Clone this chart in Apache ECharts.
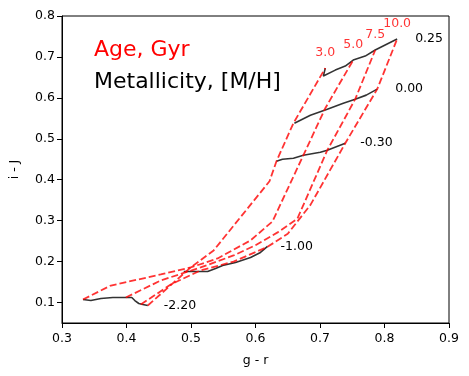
<!DOCTYPE html>
<html lang="en">
<head>
<meta charset="UTF-8">
<title>g-r vs i-J grid</title>
<script src="https://cdn.jsdelivr.net/npm/echarts@6/dist/echarts.min.js"></script>
<style>
  html, body { margin: 0; padding: 0; background: #fff; }
  #main { width: 469px; height: 376px; }
</style>
</head>
<body>
<div id="main"></div>
<script>
// tick labels
const xTicks = [0.3, 0.4, 0.5, 0.6, 0.7, 0.8, 0.9];
const yTicks = [0.1, 0.2, 0.3, 0.4, 0.5, 0.6, 0.7, 0.8];

// metallicity tracks [g-r, i-J] (black)
const mhNames = ['-2.20', '-1.00', '-0.30', '0.00', '0.25'];
const mhM220 = [[0.3325,0.1074],[0.3448,0.1049],[0.3603,0.1098],[0.3789,0.1123],[0.3990,0.1123],[0.4082,0.1123],[0.4129,0.1049],[0.4191,0.0976],[0.4253,0.0952],[0.4330,0.0927]];
const mhM100 = [[0.4887,0.1759],[0.4995,0.1759],[0.5258,0.1759],[0.5381,0.1833],[0.5490,0.1906],[0.5691,0.1979],[0.5923,0.2102],[0.6077,0.2224],[0.6186,0.2371]];
const mhM030 = [[0.6325,0.4451],[0.6418,0.4500],[0.6588,0.4525],[0.6742,0.4598],[0.7005,0.4672],[0.7113,0.4720],[0.7392,0.4892]];
const mh000 = [[0.6603,0.5381],[0.6851,0.5577],[0.7113,0.5724],[0.7361,0.5871],[0.7546,0.5969],[0.7717,0.6067],[0.7887,0.6213]];
const mhP025 = [[0.7082,0.6727],[0.7052,0.6532],[0.7237,0.6678],[0.7392,0.6776],[0.7515,0.6923],[0.7701,0.7021],[0.7856,0.7168],[0.8041,0.7315],[0.8196,0.7437]];

// age tracks (red dashed), low metallicity -> high
const ageNames = ['3.0', '5.0', '7.5', '10.0'];
const age30 = [[0.4330,0.0927],[0.4995,0.1857],[0.5351,0.2273],[0.6217,0.3962],[0.6325,0.4451],[0.6588,0.5381],[0.7082,0.6727]];
const age50 = [[0.3325,0.1074],[0.3758,0.1416],[0.4531,0.1686],[0.4995,0.1857],[0.5412,0.2077],[0.5923,0.2518],[0.6263,0.2980],[0.6742,0.4598],[0.7082,0.5748],[0.7515,0.6923]];
const age75 = [[0.3990,0.1123],[0.4531,0.1539],[0.5149,0.1857],[0.5660,0.2150],[0.6000,0.2400],[0.6350,0.2720],[0.6650,0.3050],[0.7113,0.4720],[0.7546,0.5969],[0.7856,0.7168]];
const age100 = [[0.4222,0.0952],[0.4686,0.1441],[0.5149,0.1784],[0.5660,0.2000],[0.6186,0.2360],[0.6500,0.2680],[0.6850,0.3380],[0.7392,0.4892],[0.7887,0.6213],[0.8196,0.7437]];

const font = 'DejaVu Sans';
const mhTracks = [mhM220, mhM100, mhM030, mh000, mhP025];
const mhLabelGap = [16, 13, 15, 18, 18];
const ageTracks = [age30, age50, age75, age100];

let series = [];
mhTracks.forEach((d, i) => {
    series.push({
        name: mhNames[i],
        type: 'line',
        data: d,
        showSymbol: false,
        symbol: 'none',
        lineStyle: { color: 'rgba(0,0,0,0.8)', width: 1.6 },
        endLabel: {
            show: true,
            formatter: mhNames[i],
            distance: mhLabelGap[i],
            color: '#000',
            fontFamily: font,
            fontSize: 12.5
        },
        z: 2
    });
});
ageTracks.forEach((d, i) => {
    series.push({
        name: ageNames[i],
        type: 'line',
        data: d,
        showSymbol: false,
        symbol: 'none',
        lineStyle: { color: 'rgba(255,0,0,0.8)', width: 1.8, type: [7, 3] },
        z: 3
    });
});
// age labels above the top of each red track
series.push({
    type: 'scatter',
    symbolSize: 0,
    data: ageTracks.map((d, i) => [d[d.length - 1][0], d[d.length - 1][1], ageNames[i]]),
    label: {
        show: true,
        position: 'top',
        distance: 9,
        formatter: p => p.value[2],
        color: '#ff0000',
        fontFamily: font,
        fontSize: 12.5
    },
    z: 4
});

let myChart = echarts.init(document.getElementById('main'));
let option = {
    animation: false,
    backgroundColor: '#fff',
    textStyle: { fontFamily: font },
    grid: { left: 61, right: 20, top: 16, bottom: 53, show: true, borderColor: '#000', borderWidth: 1 },
    xAxis: {
        type: 'value',
        min: 0.3, max: 0.9, interval: 0.1,
        name: 'g - r', nameLocation: 'middle', nameGap: 31,
        nameTextStyle: { color: '#000', fontSize: 12.5, fontFamily: font },
        axisLine: { lineStyle: { color: '#000' } },
        axisTick: { show: true, length: 5, lineStyle: { color: '#000' } },
        axisLabel: { color: '#000', fontSize: 12.5, fontFamily: font, margin: 9, formatter: v => v.toFixed(1) },
        splitLine: { show: false }
    },
    yAxis: {
        type: 'value',
        min: 0.05, max: 0.8,
        name: 'i - J', nameLocation: 'middle', nameGap: 41,
        nameTextStyle: { color: '#000', fontSize: 12.5, fontFamily: font },
        axisLine: { show: true, lineStyle: { color: '#000' } },
        axisTick: { show: true, length: 5, customValues: yTicks, lineStyle: { color: '#000' } },
        axisLabel: { color: '#000', fontSize: 12.5, fontFamily: font, margin: 7, customValues: yTicks, formatter: v => v.toFixed(1) },
        splitLine: { show: false }
    },
    graphic: [
        { type: 'text', left: 94, top: 39, style: { text: 'Age, Gyr', fill: '#ff0000', font: '22px "DejaVu Sans"' } },
        { type: 'text', left: 94, top: 71, style: { text: 'Metallicity, [M/H]', fill: '#000', font: '22px "DejaVu Sans"' } }
    ],
    series: series
};
myChart.setOption(option);
</script>
</body>
</html>
